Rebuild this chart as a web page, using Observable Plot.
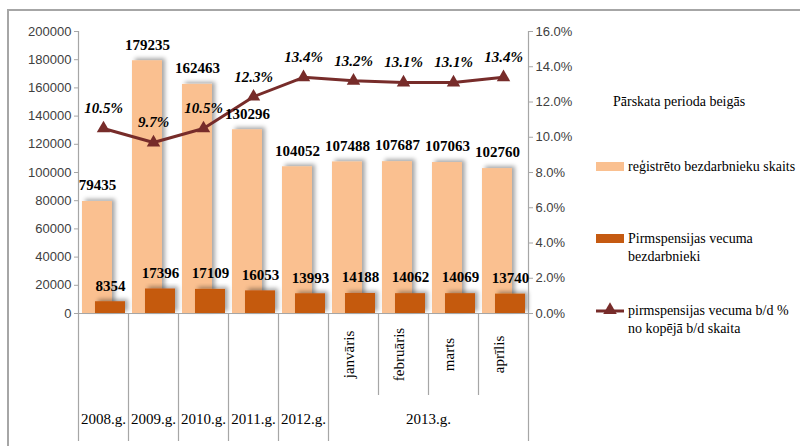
<!DOCTYPE html>
<html>
<head>
<meta charset="utf-8">
<script src="https://cdn.jsdelivr.net/npm/d3@7"></script>
<script src="https://cdn.jsdelivr.net/npm/@observablehq/plot@0.6"></script>
<style>
  html, body { margin: 0; padding: 0; background: #fff; }
  #chart svg { display: block; }
</style>
</head>
<body>
<div id="chart"></div>
<script>
// ---- data ----
const categories = ["2008.g.", "2009.g.", "2010.g.", "2011.g.", "2012.g.", "2013-01", "2013-02", "2013-03", "2013-04"];
const registered = [79435, 179235, 162463, 130296, 104052, 107488, 107687, 107063, 102760];
const prePension = [8354, 17396, 17109, 16053, 13993, 14188, 14062, 14069, 13740];
const sharePct = [10.5, 9.7, 10.5, 12.3, 13.4, 13.2, 13.1, 13.1, 13.4];
const monthLabels = ["", "", "", "", "", "janvāris", "februāris", "marts", "aprīlis"];
const yearLabels = ["2008.g.", "2009.g.", "2010.g.", "2011.g.", "2012.g."];
const yearGroupLabel = "2013.g.";
const leftTicks = [0, 20000, 40000, 60000, 80000, 100000, 120000, 140000, 160000, 180000, 200000];
const rightTicks = [0, 2, 4, 6, 8, 10, 12, 14, 16];
const legendTitle = "Pārskata perioda beigās";
const legendBars = ["reģistrēto bezdarbnieku skaits"];
const legendPre = ["Pirmspensijas vecuma", "bezdarbnieki"];
const legendLine = ["pirmspensijas vecuma b/d %", "no kopējā b/d skaita"];

// ---- styles ----
const SERIF = "Liberation Serif, 'Times New Roman', serif";
const C_REG = "#fac090";
const C_PRE = "#c55a11";
const C_LINE = "#772c2a";
const C_GRID = "#a6a6a6";
const K = 200000 / 16; // map percent onto left scale

const rows = categories.map((c, i) => ({
  c, reg: registered[i], pre: prePension[i], pct: sharePct[i], pctY: sharePct[i] * K, month: monthLabels[i]
}));

const axisStyle = {fontFamily: "Liberation Sans, Arial, sans-serif", fontSize: 13, fill: "#404040", stroke: C_GRID, tickSize: 4, tickPadding: 3};

const chart = Plot.plot({
  width: 800,
  height: 446,
  marginLeft: 78,
  marginRight: 272,
  marginTop: 31,
  marginBottom: 133,
  x: {domain: categories, padding: 0, axis: null},
  y: {domain: [0, 200000], axis: null},
  style: {fontFamily: SERIF, background: "transparent", overflow: "visible", color: "#000"},
  marks: [
    Plot.barY(rows, {x: "c", y: "reg", fill: C_REG, insetLeft: 4, insetRight: 16}),
    Plot.barY(rows, {x: "c", y: "pre", fill: C_PRE, insetLeft: 17, insetRight: 3}),
    Plot.ruleY([0], {stroke: C_GRID, strokeWidth: 1.2}),
    // table lines below the plot
    Plot.ruleX(categories.slice(1, 6), {dx: -25, y1: 0, y2: 0, insetBottom: -128, stroke: C_GRID, strokeWidth: 1.2}),
    Plot.ruleX(categories.slice(6), {dx: -25, y1: 0, y2: 0, insetBottom: -82, stroke: C_GRID, strokeWidth: 1.2}),
    // axis lines
    Plot.ruleX([categories[0]], {dx: -25, y1: 200000, y2: 0, insetBottom: -128, stroke: C_GRID, strokeWidth: 1.2}),
    Plot.ruleX([categories[categories.length - 1]], {dx: 25, y1: 200000, y2: 0, insetBottom: -128, stroke: C_GRID, strokeWidth: 1.2}),
    Plot.axisY(leftTicks, {anchor: "left", tickFormat: d3.format("d"), ...axisStyle}),
    Plot.axisY(rightTicks.map(p => p * K), {anchor: "right", tickFormat: d => (d / K).toFixed(1) + "%", ...axisStyle}),
    // line
    Plot.line(rows, {x: "c", y: "pctY", stroke: C_LINE, strokeWidth: 3}),
    Plot.dot(rows, {x: "c", y: "pctY", symbol: "triangle", fill: C_LINE, r: 5}),
    // data labels
    Plot.text(rows, {x: "c", y: "reg", text: d => String(d.reg), dx: -6, dy: -16, fontWeight: "bold", fontSize: 15, fill: "#000"}),
    Plot.text(rows, {x: "c", y: "pre", text: d => String(d.pre), dx: 7, dy: -16, fontWeight: "bold", fontSize: 15, fill: "#000"}),
    Plot.text(rows, {x: "c", y: "pctY", text: d => d.pct.toFixed(1) + "%", dy: -20, fontWeight: "bold", fontStyle: "italic", fontSize: 15, fill: "#000"}),
    // category table labels
    Plot.text(rows.filter(d => d.month), {x: "c", text: "month", frameAnchor: "bottom", dy: 41, rotate: -90, fontSize: 15, fill: "#000"}),
    Plot.text(yearLabels, {x: d => d, text: d => d, frameAnchor: "bottom", dy: 110, fontSize: 15, fill: "#000"}),
    Plot.text([yearGroupLabel], {x: () => categories[6], text: d => d, frameAnchor: "bottom", dy: 110, dx: 25, fontSize: 15, fill: "#000"})
  ]
});

document.getElementById("chart").appendChild(chart);

// ---- decorations: shadow, frame, legend ----
const svg = d3.select(chart);
const defs = svg.insert("defs", ":first-child");
const f = defs.append("filter").attr("id", "barShadow").attr("x", "-20%").attr("y", "-20%").attr("width", "160%").attr("height", "140%");
f.append("feDropShadow").attr("dx", 3).attr("dy", -2).attr("stdDeviation", 2).attr("flood-color", "#000").attr("flood-opacity", 0.35);
svg.selectAll('g[aria-label="bar"]').attr("filter", "url(#barShadow)");

svg.insert("rect", "defs + *")
  .attr("x", 8).attr("y", 10).attr("width", 800).attr("height", 446)
  .attr("fill", "#fff").attr("stroke", C_GRID).attr("stroke-width", 2);

const lg = svg.append("g")
  .style("font-family", SERIF)
  .style("font-size", "14px")
  .attr("text-anchor", "start")
  .attr("fill", "#000");

const addText = (x, y, t) => lg.append("text")
  .attr("x", x).attr("y", y).attr("dy", "0.35em")
  .style("font-family", SERIF).style("text-anchor", "start")
  .text(t);

addText(613, 101, legendTitle);

lg.append("rect").attr("x", 596).attr("y", 162).attr("width", 28).attr("height", 9).attr("fill", C_REG);
addText(628, 166, legendBars[0]);

lg.append("rect").attr("x", 596).attr("y", 234).attr("width", 28).attr("height", 9).attr("fill", C_PRE);
legendPre.forEach((t, i) => addText(628, 238 + i * 18, t));

lg.append("line").attr("x1", 596).attr("x2", 624).attr("y1", 311).attr("y2", 311).attr("stroke", C_LINE).attr("stroke-width", 3);
lg.append("path").attr("d", d3.symbol(d3.symbolTriangle, 80)()).attr("transform", "translate(610,310)").attr("fill", C_LINE);
legendLine.forEach((t, i) => addText(628, 310 + i * 18, t));
</script>
</body>
</html>
